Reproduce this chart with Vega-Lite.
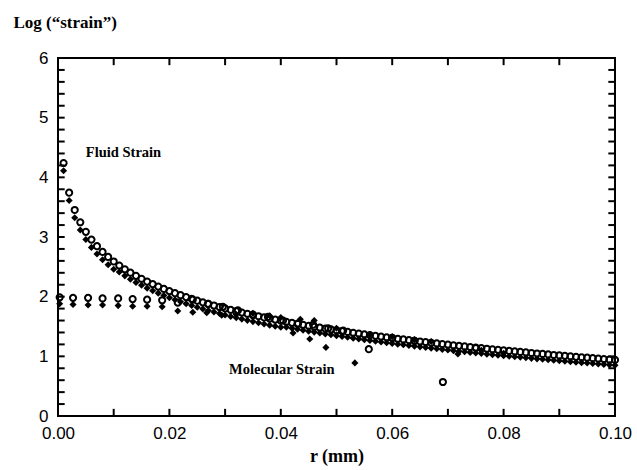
{
  "$schema": "https://vega.github.io/schema/vega-lite/v6.json",
  "autosize": "none",
  "width": 557,
  "height": 358,
  "padding": {"left": 58, "top": 58, "right": 22, "bottom": 54},
  "background": "white",
  "config": {
    "view": {"stroke": "black", "strokeWidth": 2},
    "axis": {"domain": false, "grid": false, "ticks": false, "labelFont": "Liberation Sans", "labelFontSize": 17, "labelColor": "black"}
  },
  "datasets": {
    "fluid": [
      {"r":0.001,"o":4.24,"d":4.11},{"r":0.002,"o":3.743,"d":3.613},{"r":0.003,"o":3.453,"d":3.323},{"r":0.004,"o":3.247,"d":3.117},{"r":0.005,"o":3.087,"d":2.957},
      {"r":0.006,"o":2.956,"d":2.826},{"r":0.007,"o":2.846,"d":2.716},{"r":0.008,"o":2.75,"d":2.62},{"r":0.009,"o":2.666,"d":2.536},{"r":0.010,"o":2.59,"d":2.46},
      {"r":0.011,"o":2.522,"d":2.412},{"r":0.012,"o":2.459,"d":2.349},{"r":0.013,"o":2.402,"d":2.292},{"r":0.014,"o":2.349,"d":2.239},{"r":0.015,"o":2.3,"d":2.19},
      {"r":0.016,"o":2.253,"d":2.143},{"r":0.017,"o":2.21,"d":2.1},{"r":0.018,"o":2.169,"d":2.059},{"r":0.019,"o":2.13,"d":2.02},{"r":0.020,"o":2.093,"d":1.983},
      {"r":0.021,"o":2.058,"d":1.948},{"r":0.022,"o":2.025,"d":1.915},{"r":0.023,"o":1.993,"d":1.883},{"r":0.024,"o":1.963,"d":1.853},{"r":0.025,"o":1.933,"d":1.823},
      {"r":0.026,"o":1.905,"d":1.795},{"r":0.027,"o":1.878,"d":1.768},{"r":0.028,"o":1.852,"d":1.742},{"r":0.029,"o":1.827,"d":1.717},{"r":0.030,"o":1.803,"d":1.693},
      {"r":0.031,"o":1.779,"d":1.669},{"r":0.032,"o":1.757,"d":1.647},{"r":0.033,"o":1.734,"d":1.624},{"r":0.034,"o":1.713,"d":1.603},{"r":0.035,"o":1.692,"d":1.582},
      {"r":0.036,"o":1.672,"d":1.562},{"r":0.037,"o":1.652,"d":1.542},{"r":0.038,"o":1.633,"d":1.523},{"r":0.039,"o":1.615,"d":1.505},{"r":0.040,"o":1.597,"d":1.487},
      {"r":0.041,"o":1.579,"d":1.489},{"r":0.042,"o":1.562,"d":1.472},{"r":0.043,"o":1.545,"d":1.455},{"r":0.044,"o":1.528,"d":1.438},{"r":0.045,"o":1.512,"d":1.422},
      {"r":0.046,"o":1.496,"d":1.406},{"r":0.047,"o":1.481,"d":1.391},{"r":0.048,"o":1.466,"d":1.376},{"r":0.049,"o":1.451,"d":1.361},{"r":0.050,"o":1.437,"d":1.347},
      {"r":0.051,"o":1.422,"d":1.332},{"r":0.052,"o":1.409,"d":1.319},{"r":0.053,"o":1.395,"d":1.305},{"r":0.054,"o":1.382,"d":1.292},{"r":0.055,"o":1.368,"d":1.278},
      {"r":0.056,"o":1.356,"d":1.266},{"r":0.057,"o":1.343,"d":1.253},{"r":0.058,"o":1.33,"d":1.24},{"r":0.059,"o":1.318,"d":1.228},{"r":0.060,"o":1.306,"d":1.216},
      {"r":0.061,"o":1.294,"d":1.204},{"r":0.062,"o":1.283,"d":1.193},{"r":0.063,"o":1.271,"d":1.181},{"r":0.064,"o":1.26,"d":1.17},{"r":0.065,"o":1.249,"d":1.159},
      {"r":0.066,"o":1.238,"d":1.148},{"r":0.067,"o":1.227,"d":1.137},{"r":0.068,"o":1.216,"d":1.126},{"r":0.069,"o":1.206,"d":1.116},{"r":0.070,"o":1.196,"d":1.106},
      {"r":0.071,"o":1.185,"d":1.095},{"r":0.072,"o":1.175,"d":1.085},{"r":0.073,"o":1.166,"d":1.076},{"r":0.074,"o":1.156,"d":1.066},{"r":0.075,"o":1.146,"d":1.056},
      {"r":0.076,"o":1.137,"d":1.047},{"r":0.077,"o":1.127,"d":1.037},{"r":0.078,"o":1.118,"d":1.028},{"r":0.079,"o":1.109,"d":1.019},{"r":0.080,"o":1.1,"d":1.01},
      {"r":0.081,"o":1.091,"d":1.001},{"r":0.082,"o":1.082,"d":0.992},{"r":0.083,"o":1.074,"d":0.984},{"r":0.084,"o":1.065,"d":0.975},{"r":0.085,"o":1.056,"d":0.966},
      {"r":0.086,"o":1.048,"d":0.958},{"r":0.087,"o":1.04,"d":0.95},{"r":0.088,"o":1.032,"d":0.942},{"r":0.089,"o":1.023,"d":0.933},{"r":0.090,"o":1.015,"d":0.925},
      {"r":0.091,"o":1.008,"d":0.918},{"r":0.092,"o":1.0,"d":0.91},{"r":0.093,"o":0.992,"d":0.902},{"r":0.094,"o":0.984,"d":0.894},{"r":0.095,"o":0.977,"d":0.887},
      {"r":0.096,"o":0.969,"d":0.879},{"r":0.097,"o":0.962,"d":0.872},{"r":0.098,"o":0.955,"d":0.865},{"r":0.099,"o":0.947,"d":0.857},{"r":0.100,"o":0.94,"d":0.85}
    ],
    "molO": [
      {"r":0.0003,"v":1.99},{"r":0.0027,"v":1.98},{"r":0.0054,"v":1.98},{"r":0.008,"v":1.97},{"r":0.0108,"v":1.97},
      {"r":0.0134,"v":1.96},{"r":0.016,"v":1.95},{"r":0.0187,"v":1.94},{"r":0.0215,"v":1.9},{"r":0.0242,"v":1.95},
      {"r":0.0269,"v":1.88},{"r":0.0296,"v":1.83},{"r":0.0323,"v":1.77},{"r":0.035,"v":1.7},{"r":0.0377,"v":1.66},
      {"r":0.0404,"v":1.6},{"r":0.0431,"v":1.55},{"r":0.0458,"v":1.53},{"r":0.0485,"v":1.47},{"r":0.0512,"v":1.43},
      {"r":0.0558,"v":1.12},{"r":0.06,"v":1.31},{"r":0.064,"v":1.26},{"r":0.0691,"v":0.57},{"r":0.075,"v":1.14}
    ],
    "molD": [
      {"r":0.0003,"v":1.88},{"r":0.0027,"v":1.87},{"r":0.0054,"v":1.86},{"r":0.008,"v":1.86},{"r":0.0108,"v":1.85},
      {"r":0.0134,"v":1.84},{"r":0.016,"v":1.84},{"r":0.0187,"v":1.83},{"r":0.0215,"v":1.76},{"r":0.0242,"v":1.74},
      {"r":0.0267,"v":1.73},{"r":0.0294,"v":1.69},{"r":0.032,"v":1.7},{"r":0.035,"v":1.72},{"r":0.038,"v":1.68},
      {"r":0.04,"v":1.65},{"r":0.0422,"v":1.39},{"r":0.0435,"v":1.62},{"r":0.0452,"v":1.29},{"r":0.046,"v":1.6},
      {"r":0.0481,"v":1.15},{"r":0.05,"v":1.47},{"r":0.0533,"v":0.89},{"r":0.056,"v":1.36},{"r":0.06,"v":1.33},
      {"r":0.064,"v":1.28},{"r":0.067,"v":1.25},{"r":0.0718,"v":1.04},{"r":0.076,"v":1.1},{"r":0.08,"v":1.05}
    ],
    "labels": [
      {"r":0.0050,"v":4.41,"t":"Fluid Strain"},
      {"r":0.0307,"v":0.77,"t":"Molecular Strain"}
    ],
    "xticks": [
      {"r":0.01},{"r":0.02},{"r":0.03},{"r":0.04},{"r":0.05},{"r":0.06},{"r":0.07},{"r":0.08},{"r":0.09}
    ],
    "yticks": [
      {"v":0.2},{"v":0.4},{"v":0.6},{"v":0.8},{"v":1},{"v":1.2},{"v":1.4},{"v":1.6},{"v":1.8},{"v":2},
      {"v":2.2},{"v":2.4},{"v":2.6},{"v":2.8},{"v":3},{"v":3.2},{"v":3.4},{"v":3.6},{"v":3.8},{"v":4},
      {"v":4.2},{"v":4.4},{"v":4.6},{"v":4.8},{"v":5},{"v":5.2},{"v":5.4},{"v":5.6},{"v":5.8}
    ]
  },
  "layer": [
    {
      "data": {"name": "fluid"},
      "mark": {"type": "point", "shape": "circle", "filled": false, "stroke": "black", "strokeWidth": 2, "size": 38, "opacity": 1},
      "encoding": {
        "x": {"field": "r", "type": "quantitative", "scale": {"domain": [0, 0.1], "nice": false, "zero": false},
          "axis": {"orient": "bottom", "values": [0,0.02,0.04,0.06,0.08,0.1], "format": ".2f",
            "labelPadding": 9, "labelFlush": false,
            "title": "r (mm)", "titleFont": "Liberation Serif", "titleFontWeight": "bold", "titleFontSize": 18, "titleColor": "black", "titlePadding": 6}},
        "y": {"field": "o", "type": "quantitative", "scale": {"domain": [0, 6], "nice": false},
          "axis": {"orient": "left", "values": [0,1,2,3,4,5,6], "format": "d",
            "labelPadding": 10, "labelFlush": false,
            "title": "Log (“strain”)", "titleAngle": 0, "titleAlign": "left", "titleBaseline": "alphabetic", "titleX": -45, "titleY": -31,
            "titleFont": "Liberation Serif", "titleFontWeight": "bold", "titleFontSize": 17, "titleColor": "black"}}
      }
    },
    {
      "data": {"name": "fluid"},
      "mark": {"type": "point", "shape": "diamond", "filled": true, "color": "black", "size": 50, "opacity": 1},
      "encoding": {
        "x": {"field": "r", "type": "quantitative"},
        "y": {"field": "d", "type": "quantitative"}
      }
    },
    {
      "data": {"name": "molO"},
      "mark": {"type": "point", "shape": "circle", "filled": false, "stroke": "black", "strokeWidth": 2, "size": 38, "opacity": 1},
      "encoding": {
        "x": {"field": "r", "type": "quantitative"},
        "y": {"field": "v", "type": "quantitative"}
      }
    },
    {
      "data": {"name": "molD"},
      "mark": {"type": "point", "shape": "diamond", "filled": true, "color": "black", "size": 50, "opacity": 1},
      "encoding": {
        "x": {"field": "r", "type": "quantitative"},
        "y": {"field": "v", "type": "quantitative"}
      }
    },
    {
      "data": {"name": "labels"},
      "mark": {"type": "text", "align": "left", "baseline": "middle", "font": "Liberation Serif", "fontWeight": "bold", "fontSize": 14.5, "color": "black"},
      "encoding": {
        "x": {"field": "r", "type": "quantitative"},
        "y": {"field": "v", "type": "quantitative"},
        "text": {"field": "t"}
      }
    },
    {
      "data": {"name": "xticks"},
      "mark": {"type": "rule", "color": "black", "strokeWidth": 2},
      "encoding": {
        "x": {"field": "r", "type": "quantitative"},
        "y": {"datum": 0},
        "y2": {"datum": 0.12}
      }
    },
    {
      "data": {"name": "xticks"},
      "mark": {"type": "rule", "color": "black", "strokeWidth": 2},
      "encoding": {
        "x": {"field": "r", "type": "quantitative"},
        "y": {"datum": 5.88},
        "y2": {"datum": 6}
      }
    },
    {
      "data": {"name": "yticks"},
      "mark": {"type": "rule", "color": "black", "strokeWidth": 2},
      "encoding": {
        "y": {"field": "v", "type": "quantitative"},
        "x": {"datum": 0},
        "x2": {"datum": 0.0012}
      }
    },
    {
      "data": {"name": "yticks"},
      "mark": {"type": "rule", "color": "black", "strokeWidth": 2},
      "encoding": {
        "y": {"field": "v", "type": "quantitative"},
        "x": {"datum": 0.0988},
        "x2": {"datum": 0.1}
      }
    }
  ]
}
